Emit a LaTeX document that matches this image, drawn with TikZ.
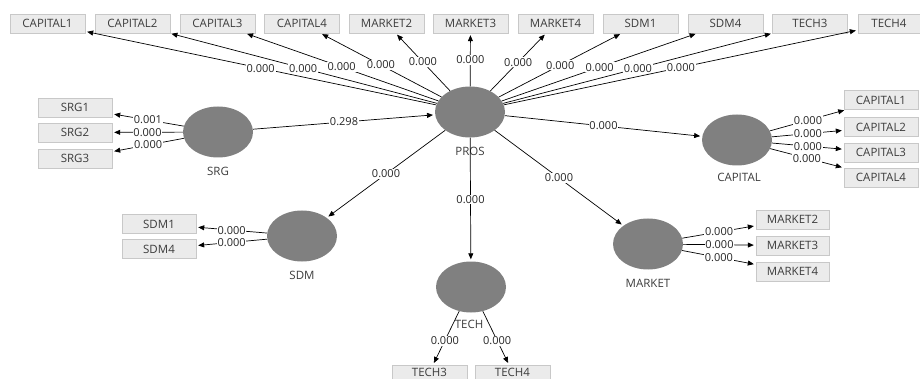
\documentclass[tikz,border=0pt]{standalone}
\usepackage{fontspec}
\setmainfont{Open Sans}
\usetikzlibrary{shapes.geometric, arrows.meta}
\definecolor{lvgray}{RGB}{128,128,128}
\definecolor{boxfill}{RGB}{235,235,235}
\definecolor{boxline}{RGB}{200,200,200}
\definecolor{txtgray}{RGB}{60,60,60}

\begin{document}
\begin{tikzpicture}[x=1pt, y=-1pt,
  lv/.style={ellipse, fill=lvgray, minimum width=70pt, minimum height=51pt,
             inner sep=0pt},
  ind/.style={rectangle, draw=boxline, fill=boxfill, minimum width=#1,
              minimum height=19pt, inner sep=0pt, font=\fontsize{11.5}{13}\selectfont,
              text=txtgray},
  ind/.default=75pt,
  lvname/.style={font=\fontsize{11.5}{13}\selectfont, text=txtgray, inner sep=1pt},
  arr/.style={-{Triangle[length=6pt, width=5pt]}, line width=0.7pt, shorten >=2pt},
  wt/.style={fill=white, inner sep=0.8pt, font=\fontsize{11}{13}\selectfont,
             text=black!85},
]
  \useasboundingbox (0,0) rectangle (920,379);
  \clip (0,0) rectangle (920,379);

  % Latent variables
  \node[lv] (pros) at (470,112) {};
  \node[lv] (srg) at (218,132) {};
  \node[lv] (capital) at (737,140) {};
  \node[lv] (market) at (648,244) {};
  \node[lv] (sdm) at (302,236) {};
  \node[lv] (tech) at (471,287) {};

  % Latent variable names
  \node[lvname] (prosname) at (470,151) {PROS};
  \node[lvname] (srgname) at (218,171) {SRG};
  \node[lvname] (capname) at (739,177) {CAPITAL};
  \node[lvname] (mktname) at (648,283) {MARKET};
  \node[lvname] (sdmname) at (302,275) {SDM};
  \node[lvname] (techname) at (469,324) {TECH};

  % PROS indicators (top row)
  \node[ind] (p1) at (47.5,23.5) {CAPITAL1};
  \node[ind] (p2) at (132.5,23.5) {CAPITAL2};
  \node[ind] (p3) at (217.5,23.5) {CAPITAL3};
  \node[ind] (p4) at (302,23.5) {CAPITAL4};
  \node[ind] (p5) at (386.5,23.5) {MARKET2};
  \node[ind] (p6) at (470.5,23.5) {MARKET3};
  \node[ind] (p7) at (555.5,23.5) {MARKET4};
  \node[ind] (p8) at (640.5,23.5) {SDM1};
  \node[ind] (p9) at (725.5,23.5) {SDM4};
  \node[ind] (p10) at (810,23.5) {TECH3};
  \node[ind=62pt] (p11) at (889,23.5) {TECH4};

  % SRG indicators
  \node[ind=74pt] (srg1) at (75,107.5) {SRG1};
  \node[ind=74pt] (srg2) at (75,132.5) {SRG2};
  \node[ind=74pt] (srg3) at (75,158.5) {SRG3};

  % CAPITAL indicators
  \node[ind=74pt] (cap1) at (881,100) {CAPITAL1};
  \node[ind=74pt] (cap2) at (881,127) {CAPITAL2};
  \node[ind=74pt] (cap3) at (881,152.5) {CAPITAL3};
  \node[ind=74pt] (cap4) at (881,177.5) {CAPITAL4};

  % MARKET indicators
  \node[ind=73pt] (mkt2) at (792.5,219.5) {MARKET2};
  \node[ind=73pt] (mkt3) at (792.5,245.5) {MARKET3};
  \node[ind=73pt] (mkt4) at (792.5,271.5) {MARKET4};

  % SDM indicators
  \node[ind=74pt] (sdm1) at (159,224) {SDM1};
  \node[ind=74pt] (sdm4) at (159,249) {SDM4};

  % TECH indicators (cut by the lower edge)
  \node[ind, minimum height=14pt] (tech3) at (429.5,372) {TECH3};
  \node[ind, minimum height=14pt] (tech4) at (512.5,372) {TECH4};

  % PROS outer loadings
  \draw[arr] (pros) -- node[wt] {0.000} (p1);
  \draw[arr] (pros) -- node[wt] {0.000} (p2);
  \draw[arr] (pros) -- node[wt] {0.000} (p3);
  \draw[arr] (pros) -- node[wt] {0.000} (p4);
  \draw[arr] (pros) -- node[wt] {0.000} (p5);
  \draw[arr] (pros) -- node[wt] {0.000} (p6);
  \draw[arr] (pros) -- node[wt] {0.000} (p7);
  \draw[arr] (pros) -- node[wt] {0.000} (p8);
  \draw[arr] (pros) -- node[wt] {0.000} (p9);
  \draw[arr] (pros) -- node[wt] {0.000} (p10);
  \draw[arr] (pros) -- node[wt] {0.000} (p11);

  % Inner model
  \draw[arr] (srg) -- node[wt] {0.298} (pros);
  \draw[arr] (pros) -- node[wt] {0.000} (capital);
  \draw[arr] (pros) -- node[wt] {0.000} (market);
  \draw[arr] (pros) -- node[wt] {0.000} (sdm);
  \draw[arr] (pros) -- node[wt] {0.000} (tech);

  % Outer loadings of the other constructs
  \draw[arr] (srg) -- node[wt] {0.001} (srg1);
  \draw[arr] (srg) -- node[wt] {0.000} (srg2);
  \draw[arr] (srg) -- node[wt] {0.000} (srg3);
  \draw[arr] (capital) -- node[wt] {0.000} (cap1);
  \draw[arr] (capital) -- node[wt] {0.000} (cap2);
  \draw[arr] (capital) -- node[wt] {0.000} (cap3);
  \draw[arr] (capital) -- node[wt] {0.000} (cap4);
  \draw[arr] (market) -- node[wt] {0.000} (mkt2);
  \draw[arr] (market) -- node[wt] {0.000} (mkt3);
  \draw[arr] (market) -- node[wt] {0.000} (mkt4);
  \draw[arr] (sdm) -- node[wt] {0.000} (sdm1);
  \draw[arr] (sdm) -- node[wt] {0.000} (sdm4);
  \draw[arr] (tech) -- node[wt, pos=0.55] {0.000} (tech3);
  \draw[arr] (tech) -- node[wt, pos=0.55] {0.000} (tech4);
\end{tikzpicture}
\end{document}
